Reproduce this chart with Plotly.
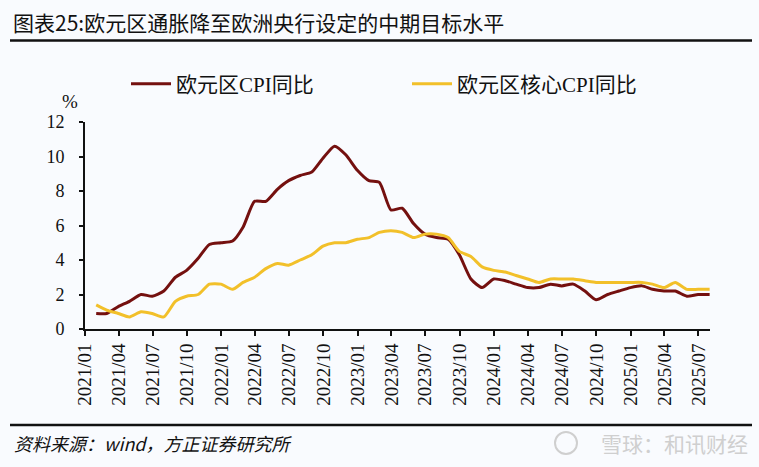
import plotly.graph_objects as go
import pandas as pd

# monthly data, Wind dates are month-end
months = pd.date_range("2021-01-31", "2025-07-31", freq="ME")

cpi = [0.9, 0.9, 1.3, 1.6, 2.0, 1.9, 2.2, 3.0, 3.4, 4.1, 4.9, 5.0,
       5.1, 5.9, 7.4, 7.4, 8.1, 8.6, 8.9, 9.1, 9.9, 10.6, 10.1, 9.2,
       8.6, 8.5, 6.9, 7.0, 6.1, 5.5, 5.3, 5.2, 4.3, 2.9, 2.4, 2.9,
       2.8, 2.6, 2.4, 2.4, 2.6, 2.5, 2.6, 2.2, 1.7, 2.0, 2.2, 2.4,
       2.5, 2.3, 2.2, 2.2, 1.9, 2.0, 2.0]

core_cpi = [1.4, 1.1, 0.9, 0.7, 1.0, 0.9, 0.7, 1.6, 1.9, 2.0, 2.6, 2.6,
            2.3, 2.7, 3.0, 3.5, 3.8, 3.7, 4.0, 4.3, 4.8, 5.0, 5.0, 5.2,
            5.3, 5.6, 5.7, 5.6, 5.3, 5.5, 5.5, 5.3, 4.5, 4.2, 3.6, 3.4,
            3.3, 3.1, 2.9, 2.7, 2.9, 2.9, 2.9, 2.8, 2.7, 2.7, 2.7, 2.7,
            2.7, 2.6, 2.4, 2.7, 2.3, 2.3, 2.3]

tick_dates = pd.date_range("2021-01-01", "2025-07-01", freq="QS")
tick_labels = [d.strftime("%Y/%m") for d in tick_dates]

serif = "Liberation Serif, Times New Roman, Noto Sans CJK SC, serif"
cjk = "Noto Sans CJK SC, sans-serif"

# plot area in pixels: x 85..710, y 122..329
L, R, T, B = 85, 710, 122, 329
W, H = R - L, B - T
def px(x): return (x - L) / W
def py(y): return (B - y) / H

fig = go.Figure()

fig.add_trace(go.Scatter(x = months, y = cpi, name = "欧元区CPI同比", mode = 'lines', legend = 'legend',
    line = dict(color = '#74100F', width = 3, shape = 'spline', smoothing = 0.6)))
fig.add_trace(go.Scatter(x = months, y = core_cpi, name = "欧元区核心CPI同比", mode = 'lines', legend = 'legend2',
    line = dict(color = '#F2C02A', width = 3, shape = 'spline', smoothing = 0.6)))

legend_style = dict(orientation = 'h', xref = 'container', yref = 'container', y = 1 - 84 / 467,
    xanchor = 'left', yanchor = 'middle', itemwidth = 40,
    font = dict(family = serif, size = 21, color = '#111111'), bgcolor = 'rgba(0,0,0,0)')

fig.update_layout(width = 759, height = 467, autosize = False,
    margin = dict(l = L, r = 759 - R, t = T, b = 467 - B, autoexpand = False),
    paper_bgcolor = '#F9FBFE', plot_bgcolor = '#F9FBFE',
    showlegend = True,
    legend = dict(legend_style, x = 126 / 759),
    legend2 = dict(legend_style, x = 407 / 759),
    font = dict(family = serif, color = '#111111'))

fig.update_xaxes(type = 'date', range = ["2021-01-01", "2025-08-01"],
    tickvals = tick_dates, ticktext = tick_labels, tickangle = -90,
    tickfont = dict(family = serif, size = 19, color = '#111111'),
    showgrid = False, zeroline = False, showline = True, linewidth = 2, linecolor = '#111111',
    ticks = 'outside', ticklen = 5, tickwidth = 2, tickcolor = '#111111')
fig.update_yaxes(range = [0, 12], tickvals = [0, 2, 4, 6, 8, 10, 12],
    tickfont = dict(family = serif, size = 18, color = '#111111'),
    showgrid = False, zeroline = False, showline = True, linewidth = 2, linecolor = '#111111',
    ticks = 'outside', ticklen = 4, tickwidth = 2, tickcolor = '#111111', ticklabelstandoff = 11)

# title and rules
fig.add_annotation(text = "图表25:欧元区通胀降至欧洲央行设定的中期目标水平",
    xref = 'paper', yref = 'paper', x = px(11), y = py(22), xanchor = 'left', yanchor = 'middle',
    showarrow = False, font = dict(family = cjk, size = 21, color = '#111111'))
fig.add_shape(type = 'line', xref = 'paper', yref = 'paper', x0 = px(10), x1 = px(752),
    y0 = py(40.5), y1 = py(40.5), line = dict(color = '#111111', width = 2.5))
fig.add_shape(type = 'line', xref = 'paper', yref = 'paper', x0 = px(10), x1 = px(752),
    y0 = py(425), y1 = py(425), line = dict(color = '#111111', width = 2.5))

fig.add_annotation(text = "%", xref = 'paper', yref = 'paper', x = px(80), y = py(101),
    xanchor = 'right', yanchor = 'middle', showarrow = False, font = dict(family = serif, size = 19, color = '#111111'))

# source and watermark
fig.add_annotation(text = "资料来源：wind，方正证券研究所", xref = 'paper', yref = 'paper',
    x = px(12), y = py(443), xanchor = 'left', yanchor = 'middle', showarrow = False,
    font = dict(family = cjk, size = 18, color = '#111111', style = 'italic'))
fig.add_annotation(text = "雪球：和讯财经", xref = 'paper', yref = 'paper',
    x = px(750), y = py(443), xanchor = 'right', yanchor = 'middle', showarrow = False,
    font = dict(family = cjk, size = 21, color = '#CFCFCF'))
fig.add_shape(type = 'circle', xref = 'paper', yref = 'paper',
    x0 = px(555), x1 = px(577), y0 = py(454), y1 = py(432),
    line = dict(color = '#CFCFCF', width = 2))

# drop the browser's default 8px body margin so the figure sits at 0,0
fig.write_html("out.html", config = {'displayModeBar': False},
    post_script = "document.body.style.margin = '0px';")
